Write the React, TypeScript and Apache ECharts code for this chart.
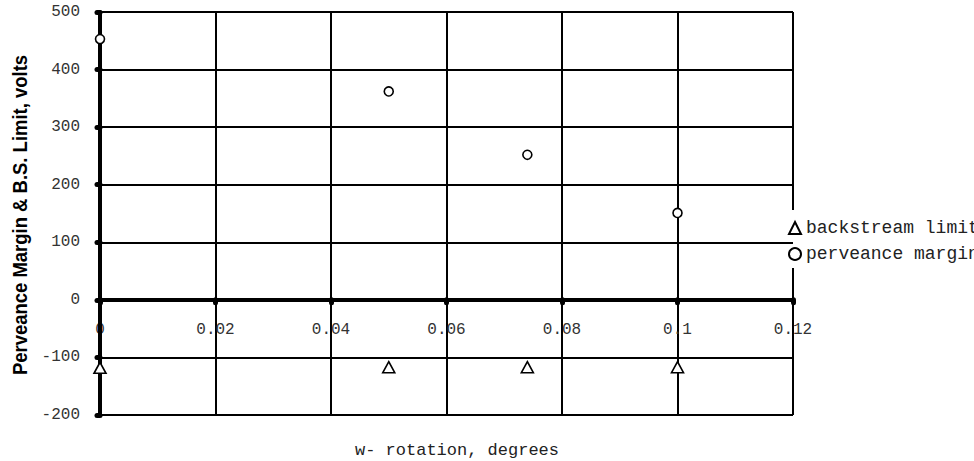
import React, { useEffect, useRef } from "react";
import * as echarts from "echarts";

const backstreamX = [0, 0.05, 0.074, 0.1];
const backstreamY = [-118, -117, -117, -117];
const perveanceX = [0, 0.05, 0.074, 0.1];
const perveanceY = [453, 362, 252, 151];
const seriesNames = ["backstream limit", "perveance margin"];
const xTitle = "w- rotation, degrees";
const yTitle = "Perveance Margin & B.S. Limit, volts";

const MONO = '"Liberation Mono", "Courier New", monospace';

const GRID_H = 403;
const Y_MIN = -200;
const Y_MAX = 500;

export default function App() {
  const ref = useRef<HTMLDivElement>(null);
  useEffect(() => {
    if (!ref.current) return;
    const chart = echarts.init(ref.current, null, { renderer: "svg" });
    const pair = (xs: number[], ys: number[]) => xs.map((x, i) => [x, ys[i]]);
    const zeroOffset = -((0 - Y_MIN) / (Y_MAX - Y_MIN)) * GRID_H;
    chart.setOption({
      animation: false,
      backgroundColor: "#fff",
      grid: { left: 100, top: 12, width: 693, height: GRID_H, containLabel: false },
      xAxis: {
        type: "value",
        min: 0,
        max: 0.12,
        interval: 0.02,
        position: "bottom",
        offset: zeroOffset,
        axisLine: { onZero: false, lineStyle: { color: "#000", width: 4 } },
        axisTick: { show: true, length: 3, lineStyle: { color: "#000", width: 5, cap: "round" } },
        axisLabel: { margin: 22, color: "#333", fontFamily: MONO, fontSize: 16 },
        splitLine: { show: true, lineStyle: { color: "#000", width: 2 } },
      },
      yAxis: {
        type: "value",
        min: Y_MIN,
        max: Y_MAX,
        interval: 100,
        z: 5,
        axisLine: { show: true, onZero: false, lineStyle: { color: "#000", width: 4 } },
        axisTick: { show: true, length: 3, lineStyle: { color: "#000", width: 5, cap: "round" } },
        axisLabel: { margin: 20, color: "#333", fontFamily: MONO, fontSize: 16 },
        splitLine: { show: true, lineStyle: { color: "#000", width: 2 } },
      },
      legend: {
        orient: "vertical",
        left: 780,
        top: 210,
        padding: [9, 0, 5, 8],
        itemGap: 8,
        itemWidth: 12,
        itemHeight: 12,
        itemTextGap: 5,
        backgroundColor: "#fff",
        data: seriesNames,
        textStyle: { color: "#222", fontFamily: MONO, fontSize: 18 },
      },
      graphic: [
        {
          type: "text",
          x: 457,
          y: 450,
          style: {
            text: xTitle,
            fill: "#222",
            font: `17px ${MONO}`,
            align: "center",
            verticalAlign: "middle",
          },
        },
        {
          type: "text",
          x: 20,
          y: 215,
          rotation: Math.PI / 2,
          scaleX: 0.88,
          style: {
            text: yTitle,
            fill: "#000",
            font: 'bold 21px "Liberation Sans Narrow", "Liberation Sans", Arial, sans-serif',
            align: "center",
            verticalAlign: "middle",
          },
        },
      ],
      series: [
        {
          name: seriesNames[0],
          type: "scatter",
          symbol: "triangle",
          symbolSize: [12, 11],
          z: 10,
          itemStyle: { color: "#fff", borderColor: "#000", borderWidth: 1.6, opacity: 1 },
          data: pair(backstreamX, backstreamY),
        },
        {
          name: seriesNames[1],
          type: "scatter",
          symbol: "circle",
          symbolSize: 9,
          z: 10,
          itemStyle: { color: "#fff", borderColor: "#000", borderWidth: 1.6, opacity: 1 },
          data: pair(perveanceX, perveanceY),
        },
      ],
    });
    return () => chart.dispose();
  }, []);
  return (
    <div
      ref={ref}
      style={{ position: "fixed", left: 0, top: 0, width: 974, height: 461 }}
    />
  );
}
